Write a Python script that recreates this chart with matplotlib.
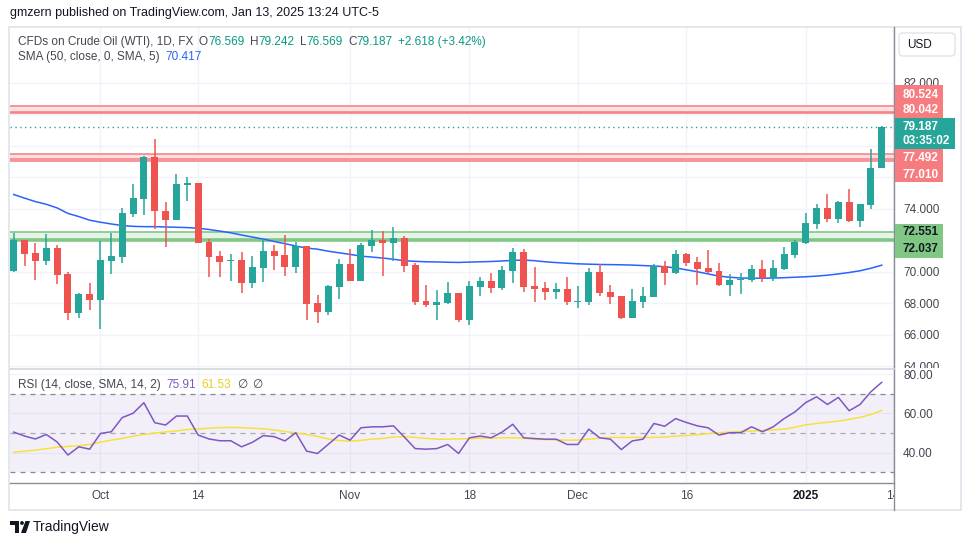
import numpy as np
import matplotlib
matplotlib.use("Agg")
import matplotlib.pyplot as plt
from matplotlib.patches import Rectangle, FancyBboxPatch, Polygon, Circle
from matplotlib.transforms import Bbox, TransformedBbox

plt.rcParams['font.family'] = ['Liberation Sans', 'DejaVu Sans']

# ---- data (one value per daily candle) ----
opens = [70.07, 72.02, 71.19, 70.70, 71.51, 69.86, 67.41, 68.59, 68.23, 70.70,
         70.96, 73.69, 74.64, 77.28, 73.86, 73.31, 75.53, 75.63, 71.89, 71.00,
         70.70, 70.75, 69.31, 70.26, 71.32, 71.06, 70.32, 71.64, 68.02, 67.47,
         69.06, 70.49, 69.44, 71.66, 72.02, 71.85, 72.16, 70.43, 68.15, 67.91,
         68.02, 68.65, 66.94, 69.06, 69.41, 68.99, 70.07, 71.26, 69.10, 68.97,
         68.74, 68.91, 68.10, 68.10, 69.99, 68.72, 68.46, 67.09, 68.10, 68.42,
         70.35, 69.94, 71.13, 70.62, 70.24, 70.05, 69.18, 69.50, 69.50, 70.18,
         69.63, 70.18, 71.06, 71.83, 73.03, 74.05, 73.35, 74.43, 73.22, 74.24,
         76.569]
highs = [72.48, 72.02, 71.83, 72.40, 71.68, 69.99, 68.65, 69.29, 71.95, 72.46,
         74.03, 75.57, 77.37, 78.43, 74.43, 76.20, 76.01, 75.66, 72.08, 71.32,
         71.13, 71.26, 71.00, 72.08, 71.70, 72.33, 71.91, 71.66, 68.53, 69.16,
         70.81, 71.45, 71.83, 72.65, 72.59, 72.84, 72.27, 70.58, 69.16, 68.84,
         69.35, 68.65, 69.41, 69.69, 69.94, 70.37, 71.51, 71.45, 70.30, 69.35,
         69.29, 69.67, 69.10, 70.24, 70.49, 69.16, 68.46, 68.91, 69.03, 70.49,
         70.68, 71.38, 71.19, 70.94, 71.38, 70.56, 69.86, 69.92, 70.43, 70.75,
         70.75, 71.57, 72.02, 73.73, 74.30, 74.96, 74.51, 75.25, 74.30, 77.79,
         79.242]
lows = [70.00, 70.39, 69.50, 70.45, 69.25, 66.96, 67.09, 67.60, 66.37, 69.86,
        70.58, 73.50, 73.62, 72.74, 71.59, 73.31, 74.51, 71.83, 69.69, 69.69,
        69.44, 68.67, 68.99, 69.37, 70.13, 69.75, 69.94, 66.96, 66.77, 67.28,
        68.29, 69.44, 69.44, 71.26, 69.75, 70.70, 70.01, 67.89, 67.79, 66.94,
        67.96, 66.81, 66.62, 68.46, 68.67, 68.84, 69.31, 68.74, 68.10, 68.23,
        68.29, 67.91, 67.72, 67.91, 68.48, 67.98, 67.00, 67.09, 67.72, 68.42,
        69.18, 69.88, 70.39, 69.18, 69.94, 69.12, 68.48, 68.61, 69.37, 69.37,
        69.44, 70.11, 70.90, 71.76, 72.71, 73.16, 73.10, 73.16, 72.84, 73.98,
        76.569]
closes = [72.02, 71.15, 70.70, 71.51, 69.82, 67.41, 68.59, 68.23, 70.75, 71.00,
          73.73, 74.68, 77.28, 73.84, 73.31, 75.57, 75.63, 71.85, 70.96, 70.64,
          70.75, 69.31, 70.30, 71.32, 71.00, 70.32, 71.64, 67.98, 67.47, 69.10,
          70.49, 69.44, 71.70, 72.02, 71.85, 72.16, 70.39, 68.10, 67.89, 68.08,
          68.65, 66.96, 69.10, 69.41, 68.99, 70.11, 71.26, 69.06, 68.93, 68.74,
          68.91, 68.10, 68.17, 69.99, 68.67, 68.42, 67.09, 68.15, 68.46, 70.35,
          69.94, 71.13, 70.58, 70.20, 69.99, 69.18, 69.48, 69.54, 70.18, 69.63,
          70.24, 71.13, 71.89, 73.10, 74.05, 73.35, 74.43, 73.22, 74.30, 76.59,
          79.187]
sma50 = [74.90, 74.67, 74.45, 74.28, 74.05, 73.70, 73.50, 73.27, 73.14, 73.03,
         72.93, 72.88, 72.86, 72.86, 72.84, 72.82, 72.80, 72.76, 72.68, 72.58,
         72.47, 72.33, 72.20, 72.07, 71.92, 71.78, 71.63, 71.50, 71.43, 71.30,
         71.20, 71.10, 70.99, 70.93, 70.87, 70.79, 70.70, 70.66, 70.63, 70.62,
         70.60, 70.59, 70.61, 70.63, 70.65, 70.68, 70.72, 70.74, 70.70, 70.63,
         70.58, 70.54, 70.50, 70.48, 70.46, 70.45, 70.44, 70.42, 70.39, 70.36,
         70.32, 70.24, 70.12, 70.00, 69.86, 69.72, 69.65, 69.60, 69.59, 69.59,
         69.60, 69.62, 69.65, 69.68, 69.72, 69.78, 69.86, 69.95, 70.06, 70.22,
         70.417]
rsi = [50.5, 48.5, 47.0, 49.3, 45.5, 38.8, 43.0, 41.8, 49.8, 50.7,
       57.9, 60.1, 65.5, 55.3, 54.1, 58.7, 58.7, 49.0, 47.0, 46.1,
       46.1, 43.0, 45.3, 48.7, 48.2, 46.0, 50.2, 40.8, 39.6, 44.3,
       49.0, 46.4, 52.7, 53.2, 53.2, 53.7, 48.0, 42.1, 41.8, 42.1,
       44.2, 39.6, 47.6, 48.5, 47.6, 50.5, 54.5, 47.6, 47.2, 46.9,
       46.9, 44.2, 44.2, 52.0, 47.6, 46.9, 41.6, 46.0, 46.9, 54.9,
       53.5, 57.4, 55.4, 53.7, 52.7, 49.0, 50.2, 50.2, 53.2, 50.7,
       53.2, 57.4, 60.8, 65.6, 68.5, 64.6, 68.2, 61.4, 64.6, 71.1,
       75.91]
rsi_ma = [40.2, 40.8, 41.3, 42.0, 42.8, 43.2, 43.5, 44.2, 45.4, 46.4,
          47.3, 48.4, 49.3, 50.0, 50.6, 51.1, 51.8, 52.1, 52.5, 52.8,
          52.9, 52.8, 52.5, 52.2, 51.6, 50.8, 50.1, 49.3, 48.3, 47.0,
          46.2, 45.9, 46.3, 46.9, 47.3, 48.0, 48.2, 47.8, 47.3, 46.9,
          46.9, 47.0, 47.2, 47.4, 47.5, 47.6, 47.6, 47.3, 46.9, 46.7,
          46.5, 46.4, 46.4, 46.9, 47.4, 47.8, 47.8, 47.8, 47.8, 47.8,
          48.0, 48.4, 48.8, 49.2, 49.7, 50.2, 50.5, 50.8, 51.0, 51.3,
          51.7, 52.0, 53.0, 54.2, 54.9, 55.5, 56.1, 57.0, 58.0, 59.5,
          61.53]

tick_idx = [8, 17, 31, 42, 52, 62, 73, 81]
tick_lbl = ['Oct', '14', 'Nov', '18', 'Dec', '16', '2025', '14']
price_ticks = [64, 66, 68, 70, 72, 74, 76, 78, 80, 82]
shown_price = [64, 66, 68, 70, 74, 82]   # the rest sit under the level tags
rsi_ticks = [40, 60, 80]
red_zones = [(77.010, 77.492), (80.042, 80.524)]
green_zone = (72.037, 72.551)

UP, DOWN = '#26a69a', '#ef5350'
GRID = '#f0f3fa'
TXT = '#131722'
GRAY = '#434651'

W, H = 970, 545


def rect(x0, y0, x1, y1):
    return [x0 / W, 1 - y1 / H, (x1 - x0) / W, (y1 - y0) / H]


fig = plt.figure(figsize=(W / 100, H / 100), dpi=100)
fig.patch.set_facecolor('white')

x = np.arange(len(closes))
o = np.array(opens); c = np.array(closes)
hi = np.array(highs); lo = np.array(lows)
cols = [UP if cc >= oo else DOWN for oo, cc in zip(o, c)]

# ---- main price pane ----
ax = fig.add_axes(rect(10, 27, 894, 368))
ax.set_xlim(-0.34, 81.13)
ax.set_ylim(63.89, 85.53)
for s in ax.spines.values():
    s.set_visible(False)
ax.set_xticks(tick_idx)
ax.tick_params(axis='x', length=0, labelbottom=False)
ax.yaxis.tick_right()
ax.set_yticks(price_ticks)
ax.set_yticklabels([f"{v:.3f}" if v in shown_price else '' for v in price_ticks])
ax.tick_params(axis='y', length=0, pad=6.5, labelsize=8.5, labelcolor=GRAY)
ax.grid(True, color=GRID, lw=1)
ax.set_axisbelow(True)

# price labels are cut at the bottom edge of the price pane
r = rect(894, 27, 962, 368)
pane_clip = TransformedBbox(Bbox.from_bounds(*r), fig.transFigure)
for lab in ax.get_yticklabels():
    lab.set_clip_on(True)
    lab.set_clip_box(pane_clip)

for lo_z, hi_z in red_zones:
    ax.axhspan(lo_z, hi_z, color='#fde0e2', lw=0, zorder=1)
    ax.axhline(hi_z, color='#f77c80', lw=1.1, zorder=2)
    ax.axhline(lo_z + 0.12, color='#f77c80', lw=1.1, zorder=2)
    ax.axhline(lo_z, color='#f77c80', lw=1.1, zorder=2)
ax.axhspan(green_zone[0], green_zone[1], color='#e5f4e6', lw=0, zorder=1)
ax.axhline(green_zone[1], color='#81c784', lw=1.2, zorder=2)
ax.axhline(green_zone[0], color='#81c784', lw=2.6, zorder=2)

ax.plot(x, sma50, color='#2962ff', lw=1.1, zorder=3)
ax.axhline(closes[-1], color=UP, lw=1, ls=(0, (1, 2.5)), zorder=2)

ax.vlines(x, lo, hi, colors=cols, lw=1.1, zorder=4)
body = np.maximum(np.abs(c - o), 0.05)
ax.bar(x, body, bottom=np.minimum(o, c), width=0.64, color=cols, lw=0, zorder=5)

# ---- RSI pane ----
ar = fig.add_axes(rect(10, 369, 894, 482))
ar.set_xlim(-0.34, 81.13)
ar.set_ylim(25.05, 82.7)
for s in ar.spines.values():
    s.set_visible(False)
ar.axhspan(30, 70, color='#7e57c2', alpha=0.09, lw=0)
for lvl in (70, 50, 30):
    ar.axhline(lvl, color='#787b86', lw=0.9, ls=(0, (4, 4)),
               alpha=0.9 if lvl != 50 else 0.6)
ar.plot(x, rsi_ma, color='#f7e23c', lw=1.1)
ar.plot(x, rsi, color='#7e57c2', lw=1.1)
ar.yaxis.tick_right()
ar.set_yticks(rsi_ticks)
ar.set_yticklabels([f"{v:.2f}" for v in rsi_ticks])
ar.tick_params(axis='y', length=0, pad=6.5, labelsize=8.5, labelcolor=GRAY)
ar.set_xticks(tick_idx)
ar.set_xticklabels(tick_lbl)
ar.tick_params(axis='x', length=0, pad=6, labelsize=8.5, labelcolor=GRAY)
for lab in ar.get_xticklabels():
    if lab.get_text() == '2025':
        lab.set_fontweight('bold')
        lab.set_color(TXT)
ar.grid(True, color=GRID, lw=1)
ar.set_axisbelow(True)

# ---- overlay in pixel coordinates ----
ov = fig.add_axes([0, 0, 1, 1])
ov.set_xlim(0, W)
ov.set_ylim(H, 0)
ov.axis('off')
ov.patch.set_visible(False)

ov.add_patch(Rectangle((895, 482), 66, 28, color='white', zorder=1))
ov.add_patch(Rectangle((9, 27), 952, 483, fill=False, ec='#e0e3eb', lw=1.2))
ov.plot([894.5, 894.5], [27, 510], color='#8a8d96', lw=1)
ov.plot([10, 894], [368.5, 368.5], color='#d1d4dc', lw=1.2)
ov.plot([10, 894], [482.5, 482.5], color='#8a8d96', lw=1)

# price-axis labels
def tag(y0, y1, x1, fc, lines, tc):
    ov.add_patch(Rectangle((895, y0), x1 - 895, y1 - y0, color=fc, lw=0, zorder=3))
    for ty, s in lines:
        ov.text(903, ty, s, color=tc, fontsize=8.5, fontweight='bold',
                va='center', ha='left', zorder=4)

tag(85, 118, 943, '#f77c80', [(95, '80.524'), (110, '80.042')], 'white')
tag(118, 149, 955, UP, [(127, '79.187'), (141, '03:35:02')], 'white')
tag(149, 182, 943, '#f77c80', [(158, '77.492'), (175, '77.010')], 'white')
tag(224, 258, 943, '#81c784', [(232, '72.551'), (249, '72.037')], TXT)

ov.add_patch(FancyBboxPatch((899, 33), 56, 23, boxstyle='round,pad=0,rounding_size=4',
                            fc='white', ec='#e0e3eb', lw=1, zorder=3))
ov.text(907, 44.5, 'USD', fontsize=8.5, color=TXT, va='center', zorder=4)

ov.text(10, 13, 'gmzern published on TradingView.com, Jan 13, 2025 13:24 UTC-5',
        fontsize=9, color=TXT, va='center')


def chain(x0, y0, parts, size=8.5):
    t = ov.text(x0, y0, parts[0][0], color=parts[0][1], fontsize=size, va='center')
    for s, col, gap in parts[1:]:
        t = ov.annotate(s, xy=(1, 0.5), xycoords=t, xytext=(gap, 0),
                        textcoords='offset points', color=col, fontsize=size,
                        va='center', ha='left')


G = '#089981'
chain(18, 42, [('CFDs on Crude Oil (WTI), 1D, FX', GRAY),
               ('O', GRAY, 4), ('76.569', G, 0), ('H', GRAY, 4), ('79.242', G, 0),
               ('L', GRAY, 4), ('76.569', G, 0), ('C', GRAY, 4), ('79.187', G, 0),
               ('+2.618 (+3.42%)', G, 4)])
chain(18, 57, [('SMA (50, close, 0, SMA, 5)', GRAY), ('70.417', '#2962ff', 4)])
chain(18, 385, [('RSI (14, close, SMA, 14, 2)', GRAY), ('75.91', '#7e57c2', 4),
                ('61.53', '#e8cf1c', 4), ('\u2205', GRAY, 4), ('\u2205', GRAY, 4)])

# TradingView logo
ov.add_patch(Polygon([(10, 521), (19, 521), (19, 533), (15, 533), (15, 525), (10, 525)],
                     color=TXT, lw=0))
ov.add_patch(Circle((22, 523), 1.9, color=TXT, lw=0))
ov.add_patch(Polygon([(25.5, 521), (30, 521), (26, 533), (21, 533)], color=TXT, lw=0))
ov.text(33, 527, 'TradingView', fontsize=10, color=TXT, va='center')

fig.savefig('out.png', dpi=100)
